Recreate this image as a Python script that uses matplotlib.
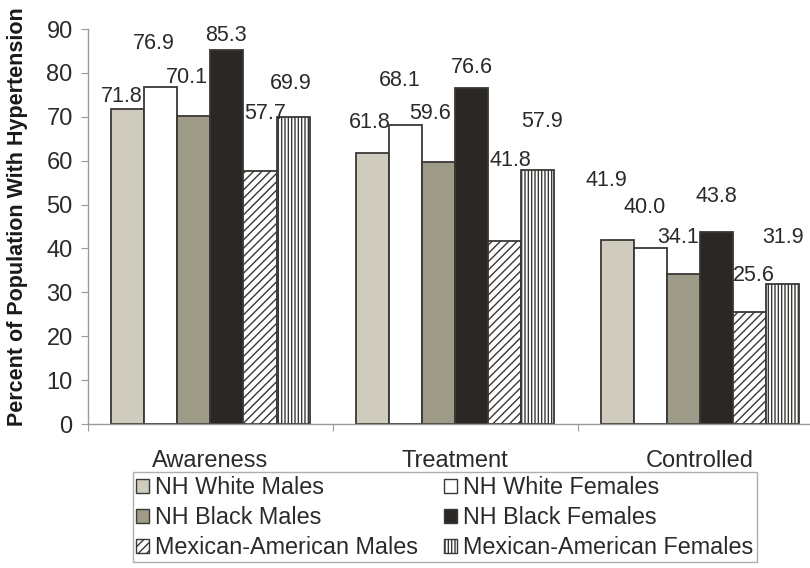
import numpy as np
import matplotlib
matplotlib.use("Agg")
import matplotlib.pyplot as plt
from matplotlib.patches import Patch

plt.rcParams["font.family"] = ["Liberation Sans", "DejaVu Sans"]
plt.rcParams["hatch.linewidth"] = 1.0

# ── data ────────────────────────────────────
categories = ["Awareness", "Treatment", "Controlled"]
groups = ["NH White Males", "NH White Females", "NH Black Males",
          "NH Black Females", "Mexican-American Males", "Mexican-American Females"]
white_males     = [71.8, 61.8, 41.9]
white_females   = [76.9, 68.1, 40.0]
black_males     = [70.1, 59.6, 34.1]
black_females   = [85.3, 76.6, 43.8]
mexican_males   = [57.7, 41.8, 25.6]
mexican_females = [69.9, 57.9, 31.9]
series = [white_males, white_females, black_males,
          black_females, mexican_males, mexican_females]

# ── styling ─────────────────────────────────
faces   = ["#CFCCBD", "#FFFFFF", "#9E9B89", "#2B2724", "#FFFFFF", "#FFFFFF"]
hatches = [None, None, None, None, "////", "|||||"]
edge = "#3A3835"
# label offsets (points) per series/category, mimicking the hand-placed labels
lab_dx = [[-4, -2, -8], [-5, -4, -4], [-5, -6, -4],
          [-1, 0, 0], [4, 4, 3], [-2, 3, 0]]
lab_dy = [[12, 30, 60], [43, 45, 41], [39, 49, 37],
          [14, 20, 35], [57, 80, 36], [34, 48, 47]]

fig = plt.figure(figsize=(8.10, 5.68), dpi=100)
ax = fig.add_axes([0.1086, 0.2535, 0.907, 0.6954])

x = np.arange(len(categories))
w = 0.135
for i, vals in enumerate(series):
    pos = x + (i - 2.5) * w
    ax.bar(pos, vals, width=w, color=faces[i], edgecolor=edge, linewidth=1.3,
           hatch=hatches[i], zorder=2)
    for j, v in enumerate(vals):
        ax.annotate(f"{v:.1f}", (pos[j], v), xytext=(lab_dx[i][j], lab_dy[i][j] * 0.72),
                    textcoords="offset points", ha="center", va="center",
                    fontsize=15.5, color="#2a2a2a")

ax.set_xlim(-0.5, 2.5)
ax.set_ylim(0, 90)
ax.set_yticks(range(0, 91, 10))
ax.tick_params(axis="y", labelsize=17, length=5, color="#9a9a9a", pad=6, labelcolor="#2a2a2a")

ax.set_xticks([-0.5, 0.5, 1.5, 2.5])
ax.set_xticklabels([])
ax.set_xticks(x, minor=True)
ax.set_xticklabels(categories, minor=True)
ax.tick_params(axis="x", which="major", length=5, color="#9a9a9a")
ax.tick_params(axis="x", which="minor", length=0, labelsize=17, pad=19, labelcolor="#2a2a2a")

for s in ["top", "right"]:
    ax.spines[s].set_visible(False)
for s in ["left", "bottom"]:
    ax.spines[s].set_color("#9a9a9a")
    ax.spines[s].set_linewidth(1.0)

ax.set_ylabel("Percent of Population With Hypertension", fontsize=15.5,
              fontweight="bold", color="#1a1a1a")
ax.yaxis.set_label_coords(-0.082, 0.525)

# legend in row order: males left, females right
order = [0, 2, 4, 1, 3, 5]
handles = [Patch(facecolor=faces[k], edgecolor=edge, hatch=hatches[k], linewidth=1.0,
                 label=groups[k]) for k in order]
leg = fig.legend(handles=handles, ncol=2, loc="center",
                 bbox_to_anchor=(0.164, 0.009, 0.770, 0.160), mode="expand",
                 fontsize=16.8, frameon=True, fancybox=False, borderaxespad=0,
                 handlelength=0.55, handleheight=0.55, handletextpad=0.25,
                 labelspacing=0.3, borderpad=0.15, columnspacing=1.0)
leg.get_frame().set_edgecolor("#9a9a9a")
leg.get_frame().set_linewidth(1.0)
for t in leg.get_texts():
    t.set_color("#2a2a2a")

fig.savefig("out.png", dpi=100)
